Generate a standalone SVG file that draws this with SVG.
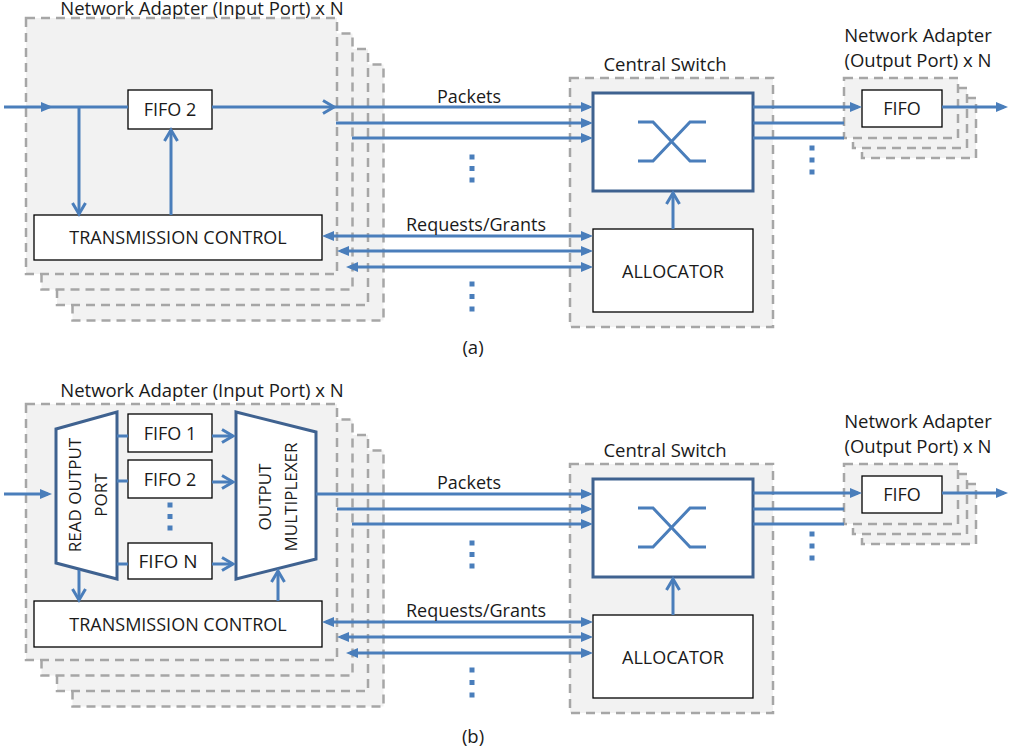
<svg xmlns="http://www.w3.org/2000/svg" width="1020" height="756" viewBox="0 0 1020 756">
<style>
  text { font-family: "Open Sans", "Noto Sans", "Liberation Sans", sans-serif; fill: #1a1a1a; }
  .title { font-size: 18.5px; text-anchor: middle; }
  .lbl { font-size: 18px; text-anchor: middle; }
  .rot { font-size: 17px; text-anchor: middle; }
  .stack { fill: #f2f2f2; stroke: #a6a6a6; stroke-width: 2.5; stroke-dasharray: 9 6; }
  .box { fill: #ffffff; stroke: #000000; stroke-width: 1.3; }
  .sw { fill: #ffffff; stroke: #3f6290; stroke-width: 3; }
  .trap { fill: #ffffff; stroke: #3f6290; stroke-width: 3; }
  .ln { stroke: #4a7ebb; stroke-width: 3; fill: none; }
  .fa { marker-end: url(#fill); }
  .fb { marker-start: url(#fill); marker-end: url(#fill); }
  .ch { marker-end: url(#chev); }
  .dot { fill: #4a7ebb; }
  .xsym { stroke: #4a7ebb; stroke-width: 3; fill: none; }
</style>
<defs>
  <marker id="fill" markerUnits="userSpaceOnUse" viewBox="0 0 12 10" markerWidth="12" markerHeight="10" refX="8" refY="5" orient="auto-start-reverse">
    <path d="M0,0 L12,5 L0,10 z" fill="#4a7ebb"/>
  </marker>
  <marker id="chev" markerUnits="userSpaceOnUse" viewBox="0 0 16 16" markerWidth="16" markerHeight="16" refX="13" refY="8" orient="auto">
    <path d="M2,1.5 L13,8 L2,14.5" fill="none" stroke="#4a7ebb" stroke-width="3"/>
  </marker>
</defs>

<!-- ===================== PANEL (a) ===================== -->
<g id="a-input-port">
  <rect class="stack" x="72.5" y="64.5" width="311" height="256"/>
  <rect class="stack" x="57" y="49" width="311" height="256"/>
  <rect class="stack" x="41.5" y="33.5" width="311" height="256"/>
  <rect class="stack" x="26" y="18" width="311" height="256"/>
  <text class="title" x="202" y="15">Network Adapter (Input Port) x N</text>
</g>
<g id="a-fifo2">
  <rect class="box" x="128" y="90" width="84" height="39"/>
  <text class="lbl" x="170" y="116">FIFO 2</text>
</g>
<g id="a-tc">
  <rect class="box" x="34" y="215" width="288" height="45"/>
  <text class="lbl" x="178" y="244">TRANSMISSION CONTROL</text>
</g>
<g id="a-central-switch">
  <rect class="stack" x="570" y="78" width="203" height="249"/>
  <text class="title" x="665" y="71">Central Switch</text>
</g>
<g id="a-switch">
  <rect class="sw" x="593" y="93" width="160" height="98"/>
  <path class="xsym" d="M638,122 H653 L690,161 H706 M638,161 H653 L690,122 H706"/>
</g>
<g id="a-allocator">
  <rect class="box" x="593" y="229" width="160" height="83"/>
  <text class="lbl" x="673" y="278">ALLOCATOR</text>
</g>
<g id="a-output-port">
  <rect class="stack" x="862" y="98" width="114" height="60"/>
  <rect class="stack" x="853" y="88" width="114" height="60"/>
  <rect class="stack" x="844" y="78" width="114" height="60"/>
  <text class="title" x="918" y="42">Network Adapter</text>
  <text class="title" x="918" y="67">(Output Port) x N</text>
</g>
<g id="a-out-fifo">
  <rect class="box" x="862" y="90" width="80" height="37"/>
  <text class="lbl" x="902" y="115">FIFO</text>
</g>
<g id="a-connectors">
  <line class="ln fa" x1="4" y1="107" x2="49" y2="107"/>
  <line class="ln" x1="49" y1="107" x2="128" y2="107"/>
  <line class="ln ch" x1="79" y1="107" x2="79" y2="214"/>
  <line class="ln ch" x1="171" y1="215" x2="171" y2="130"/>
  <line class="ln ch" x1="212" y1="107" x2="334" y2="107"/>
  <line class="ln fa" x1="333" y1="107" x2="589" y2="107"/>
  <line class="ln fa" x1="336" y1="123" x2="589" y2="123"/>
  <line class="ln fa" x1="352" y1="138" x2="589" y2="138"/>
  <line class="ln fb" x1="326" y1="236" x2="589" y2="236"/>
  <line class="ln fb" x1="341" y1="251" x2="589" y2="251"/>
  <line class="ln fb" x1="350" y1="267" x2="589" y2="267"/>
  <line class="ln ch" x1="673" y1="229" x2="673" y2="193"/>
  <line class="ln fa" x1="753" y1="107" x2="858" y2="107"/>
  <line class="ln" x1="753" y1="123" x2="844" y2="123"/>
  <line class="ln" x1="753" y1="138" x2="844" y2="138"/>
  <line class="ln fa" x1="942" y1="107" x2="1004" y2="107"/>
  <rect class="dot" x="469.5" y="154.5" width="5" height="5"/>
  <rect class="dot" x="469.5" y="166" width="5" height="5"/>
  <rect class="dot" x="469.5" y="177.5" width="5" height="5"/>
  <rect class="dot" x="469.5" y="281.5" width="5" height="5"/>
  <rect class="dot" x="469.5" y="294" width="5" height="5"/>
  <rect class="dot" x="469.5" y="306.5" width="5" height="5"/>
  <rect class="dot" x="809.5" y="145.5" width="5" height="5"/>
  <rect class="dot" x="809.5" y="157.5" width="5" height="5"/>
  <rect class="dot" x="809.5" y="169.5" width="5" height="5"/>
</g>
<g id="a-labels">
  <text class="lbl" x="469" y="103">Packets</text>
  <text class="lbl" x="476" y="231">Requests/Grants</text>
  <text class="title" x="473" y="354">(a)</text>
</g>

<!-- ===================== PANEL (b) ===================== -->
<g id="b-input-port">
  <rect class="stack" x="72.5" y="450.5" width="311" height="256"/>
  <rect class="stack" x="57" y="435" width="311" height="256"/>
  <rect class="stack" x="41.5" y="419.5" width="311" height="256"/>
  <rect class="stack" x="26" y="404" width="311" height="256"/>
  <text class="title" x="202" y="397">Network Adapter (Input Port) x N</text>
</g>
<g id="b-read-output-port">
  <polygon class="trap" points="56,429 117,412 117,579 56,563"/>
  <text class="rot" transform="translate(81,495) rotate(-90)">READ OUTPUT</text>
  <text class="rot" transform="translate(107,495) rotate(-90)">PORT</text>
</g>
<g id="b-fifo1">
  <rect class="box" x="128" y="414" width="84" height="38"/>
  <text class="lbl" x="170" y="439.5">FIFO 1</text>
</g>
<g id="b-fifo2">
  <rect class="box" x="128" y="460" width="84" height="38"/>
  <text class="lbl" x="170" y="485.5">FIFO 2</text>
</g>
<g id="b-fifon">
  <rect class="box" x="128" y="543" width="84" height="36"/>
  <text class="lbl" x="168" y="568" style="font-size:19px">FIFO N</text>
</g>
<g id="b-output-multiplexer">
  <polygon class="trap" points="236,412 316,432 316,559 236,579"/>
  <text class="rot" transform="translate(271,497) rotate(-90)">OUTPUT</text>
  <text class="rot" transform="translate(297,497) rotate(-90)">MULTIPLEXER</text>
</g>
<g id="b-tc">
  <rect class="box" x="34" y="601" width="288" height="46"/>
  <text class="lbl" x="178" y="630.5">TRANSMISSION CONTROL</text>
</g>
<g id="b-central-switch">
  <rect class="stack" x="570" y="464" width="203" height="249"/>
  <text class="title" x="665" y="457">Central Switch</text>
</g>
<g id="b-switch">
  <rect class="sw" x="593" y="479" width="160" height="98"/>
  <path class="xsym" d="M638,508 H653 L690,547 H706 M638,547 H653 L690,508 H706"/>
</g>
<g id="b-allocator">
  <rect class="box" x="593" y="615" width="160" height="83"/>
  <text class="lbl" x="673" y="664">ALLOCATOR</text>
</g>
<g id="b-output-port">
  <rect class="stack" x="862" y="484" width="114" height="60"/>
  <rect class="stack" x="853" y="474" width="114" height="60"/>
  <rect class="stack" x="844" y="464" width="114" height="60"/>
  <text class="title" x="918" y="428">Network Adapter</text>
  <text class="title" x="918" y="453">(Output Port) x N</text>
</g>
<g id="b-out-fifo">
  <rect class="box" x="862" y="476" width="80" height="37"/>
  <text class="lbl" x="902" y="501">FIFO</text>
</g>
<g id="b-connectors">
  <line class="ln fa" x1="4" y1="494" x2="48" y2="494"/>
  <line class="ln" x1="117" y1="436" x2="128" y2="436"/>
  <line class="ln" x1="117" y1="481" x2="128" y2="481"/>
  <line class="ln" x1="117" y1="564" x2="128" y2="564"/>
  <line class="ln ch" x1="212" y1="436" x2="233" y2="436"/>
  <line class="ln ch" x1="212" y1="482" x2="233" y2="482"/>
  <line class="ln ch" x1="212" y1="564" x2="233" y2="564"/>
  <line class="ln ch" x1="79" y1="570" x2="79" y2="600"/>
  <line class="ln ch" x1="278" y1="601" x2="278" y2="571"/>
  <line class="ln fa" x1="316" y1="494" x2="589" y2="494"/>
  <line class="ln fa" x1="337" y1="509" x2="589" y2="509"/>
  <line class="ln fa" x1="352" y1="524" x2="589" y2="524"/>
  <line class="ln fb" x1="326" y1="622" x2="589" y2="622"/>
  <line class="ln fb" x1="341" y1="637" x2="589" y2="637"/>
  <line class="ln fb" x1="350" y1="653" x2="589" y2="653"/>
  <line class="ln ch" x1="673" y1="615" x2="673" y2="579"/>
  <line class="ln fa" x1="753" y1="493" x2="858" y2="493"/>
  <line class="ln" x1="753" y1="509" x2="844" y2="509"/>
  <line class="ln" x1="753" y1="524" x2="844" y2="524"/>
  <line class="ln fa" x1="942" y1="493" x2="1004" y2="493"/>
  <rect class="dot" x="167.5" y="502.5" width="5" height="5"/>
  <rect class="dot" x="167.5" y="514" width="5" height="5"/>
  <rect class="dot" x="167.5" y="525.5" width="5" height="5"/>
  <rect class="dot" x="469.5" y="540.5" width="5" height="5"/>
  <rect class="dot" x="469.5" y="552" width="5" height="5"/>
  <rect class="dot" x="469.5" y="563.5" width="5" height="5"/>
  <rect class="dot" x="469.5" y="667.5" width="5" height="5"/>
  <rect class="dot" x="469.5" y="680" width="5" height="5"/>
  <rect class="dot" x="469.5" y="692.5" width="5" height="5"/>
  <rect class="dot" x="809.5" y="531.5" width="5" height="5"/>
  <rect class="dot" x="809.5" y="543.5" width="5" height="5"/>
  <rect class="dot" x="809.5" y="555.5" width="5" height="5"/>
</g>
<g id="b-labels">
  <text class="lbl" x="469" y="489">Packets</text>
  <text class="lbl" x="476" y="617">Requests/Grants</text>
  <text class="title" x="473" y="743">(b)</text>
</g>
</svg>
